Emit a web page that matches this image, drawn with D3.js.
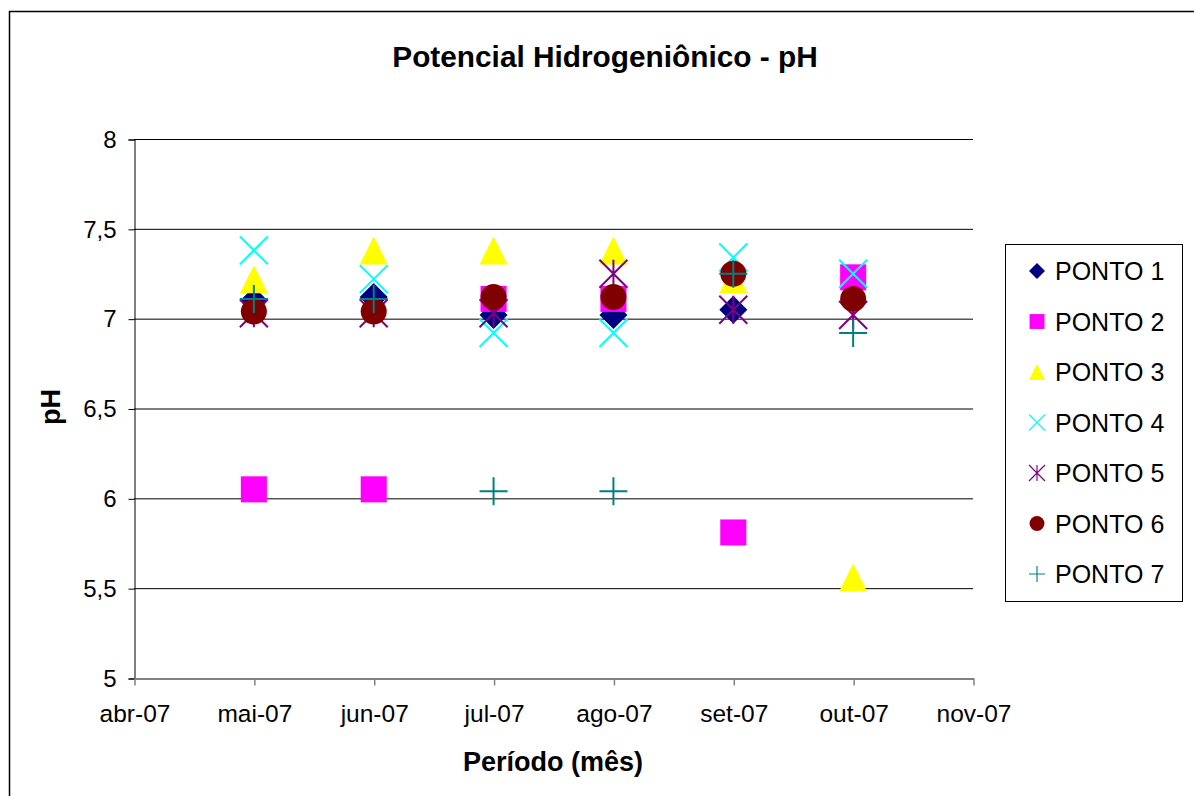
<!DOCTYPE html>
<html><head><meta charset="utf-8">
<script src="https://cdn.jsdelivr.net/npm/d3@7"></script>
<style>html,body{margin:0;padding:0;background:#fff;}svg{display:block;font-family:Arial,"Liberation Sans",sans-serif;}</style>
</head><body>
<script>
const months = ["abr-07","mai-07","jun-07","jul-07","ago-07","set-07","out-07","nov-07"];
const dataMonths = ["mai-07","jun-07","jul-07","ago-07","set-07","out-07"];
const yTicks = [5,5.5,6,6.5,7,7.5,8];
const seriesNames = ["PONTO 1","PONTO 2","PONTO 3","PONTO 4","PONTO 5","PONTO 6","PONTO 7"];
const ponto1 = [7.10, 7.12, 7.02, 7.02, 7.05, null];
const ponto2 = [6.05, 6.05, 7.11, 7.11, 5.81, 7.23];
const ponto3 = [7.22, 7.38, 7.38, 7.38, 7.22, 5.56];
const ponto4 = [7.38, 7.22, 6.92, 6.92, 7.34, 7.25];
const ponto5 = [7.03, 7.03, 7.03, 7.25, 7.05, 7.02];
const ponto6 = [7.04, 7.04, 7.12, 7.12, 7.25, 7.11];
const ponto7 = [7.11, 7.11, 6.04, 6.04, 7.25, 6.92];
const seriesValues = [ponto1, ponto2, ponto3, ponto4, ponto5, ponto6, ponto7];
const colors = ["#000080","#FF00FF","#FFFF00","#00FFFF","#800080","#800000","#008080"];
const shapes = ["diamond","square","triangle","x","star","circle","plus"];

const W = 1194, H = 796;
const svg = d3.select("body").append("svg").attr("width", W).attr("height", H);
svg.append("rect").attr("x", 9.5).attr("y", 11.5).attr("width", 1300).attr("height", 900)
  .attr("fill", "#fff").attr("stroke", "#000").attr("stroke-width", 1.5);

const x = d3.scalePoint().domain(months).range([134, 973]);
const y = d3.scaleLinear().domain([5, 8]).range([678, 139]);

// gridlines
svg.append("g").selectAll("line").data(yTicks.filter(d => d > 5)).join("line")
  .attr("x1", 134).attr("x2", 973).attr("y1", d => y(d)+0.5).attr("y2", d => y(d)+0.5)
  .attr("stroke", "#000").attr("stroke-width", 1);

// y axis
const yAxis = d3.axisLeft(y).tickValues(yTicks).tickSize(6).tickPadding(12)
  .tickFormat(d => String(d).replace(".", ","));
const gy = svg.append("g").attr("transform", "translate(134.5,0.5)").call(yAxis);
gy.select(".domain").attr("stroke", "#000");
gy.selectAll(".tick line").attr("stroke", "#000");
gy.selectAll("text").attr("font-size", 24).attr("fill", "#000").attr("font-family", "Arial, 'Liberation Sans', sans-serif");

// x axis
const xAxis = d3.axisBottom(x).tickSize(7).tickPadding(19).tickSizeOuter(0);
const gx = svg.append("g").attr("transform", "translate(0.5,678.5)").call(xAxis);
gx.select(".domain").attr("stroke", "#808080").attr("stroke-width", 2);
gx.selectAll(".tick line").attr("stroke", "#808080").attr("stroke-width", 1.5);
gx.selectAll("text").attr("font-size", 24.5).attr("fill", "#000").attr("font-family", "Arial, 'Liberation Sans', sans-serif");

// marker generator (geometry only)
function marker(sel, shape, color, s) {
  const h = s / 2;
  if (shape === "diamond") sel.append("path").attr("d", `M0,${-h}L${h},0L0,${h}L${-h},0Z`).attr("fill", color);
  else if (shape === "square") sel.append("rect").attr("x", -h*0.93).attr("y", -h*0.93).attr("width", s*0.93).attr("height", s*0.93).attr("fill", color);
  else if (shape === "triangle") sel.append("path").attr("d", `M0,${-h}L${h},${h}L${-h},${h}Z`).attr("fill", color);
  else if (shape === "circle") sel.append("circle").attr("r", h*0.93).attr("fill", color);
  else if (shape === "x") sel.append("path").attr("d", `M${-h},${-h}L${h},${h}M${h},${-h}L${-h},${h}`).attr("stroke", color).attr("stroke-width", s/14).attr("fill", "none");
  else if (shape === "star") sel.append("path").attr("d", `M${-h},${-h}L${h},${h}M${h},${-h}L${-h},${h}M0,${-h}L0,${h}`).attr("stroke", color).attr("stroke-width", s/14).attr("fill", "none");
  else if (shape === "plus") sel.append("path").attr("d", `M${-h},0L${h},0M0,${-h}L0,${h}`).attr("stroke", color).attr("stroke-width", s/14).attr("fill", "none");
}

// points
seriesValues.forEach((vals, si) => {
  const g = svg.append("g");
  vals.forEach((v, i) => {
    if (v == null) return;
    const m = g.append("g").attr("transform", `translate(${x(dataMonths[i])},${y(v)})`);
    marker(m, shapes[si], colors[si], 28);
  });
});

// title & axis labels
svg.append("text").attr("x", 605).attr("y", 67).attr("text-anchor", "middle")
  .attr("font-size", 29.8).attr("font-weight", "bold").text("Potencial Hidrogeniônico - pH");
svg.append("text").attr("transform", "translate(60,407) rotate(-90)").attr("text-anchor", "middle")
  .attr("font-size", 27).attr("font-weight", "bold").text("pH");
svg.append("text").attr("x", 553).attr("y", 771).attr("text-anchor", "middle")
  .attr("font-size", 27).attr("font-weight", "bold").text("Período (mês)");

// legend
const lg = svg.append("g");
lg.append("rect").attr("x", 1005.5).attr("y", 244.5).attr("width", 177).attr("height", 357)
  .attr("fill", "#fff").attr("stroke", "#000").attr("stroke-width", 1);
const ly = d3.scalePoint().domain(seriesNames).range([271, 574]);
seriesNames.forEach((n, i) => {
  const row = lg.append("g").attr("transform", `translate(0,${ly(n)})`);
  const m = row.append("g").attr("transform", "translate(1037,0)");
  marker(m, shapes[i], colors[i], 16);
  row.append("text").attr("x", 1055).attr("y", 9).attr("font-size", 25).text(n);
});
</script>
</body></html>
